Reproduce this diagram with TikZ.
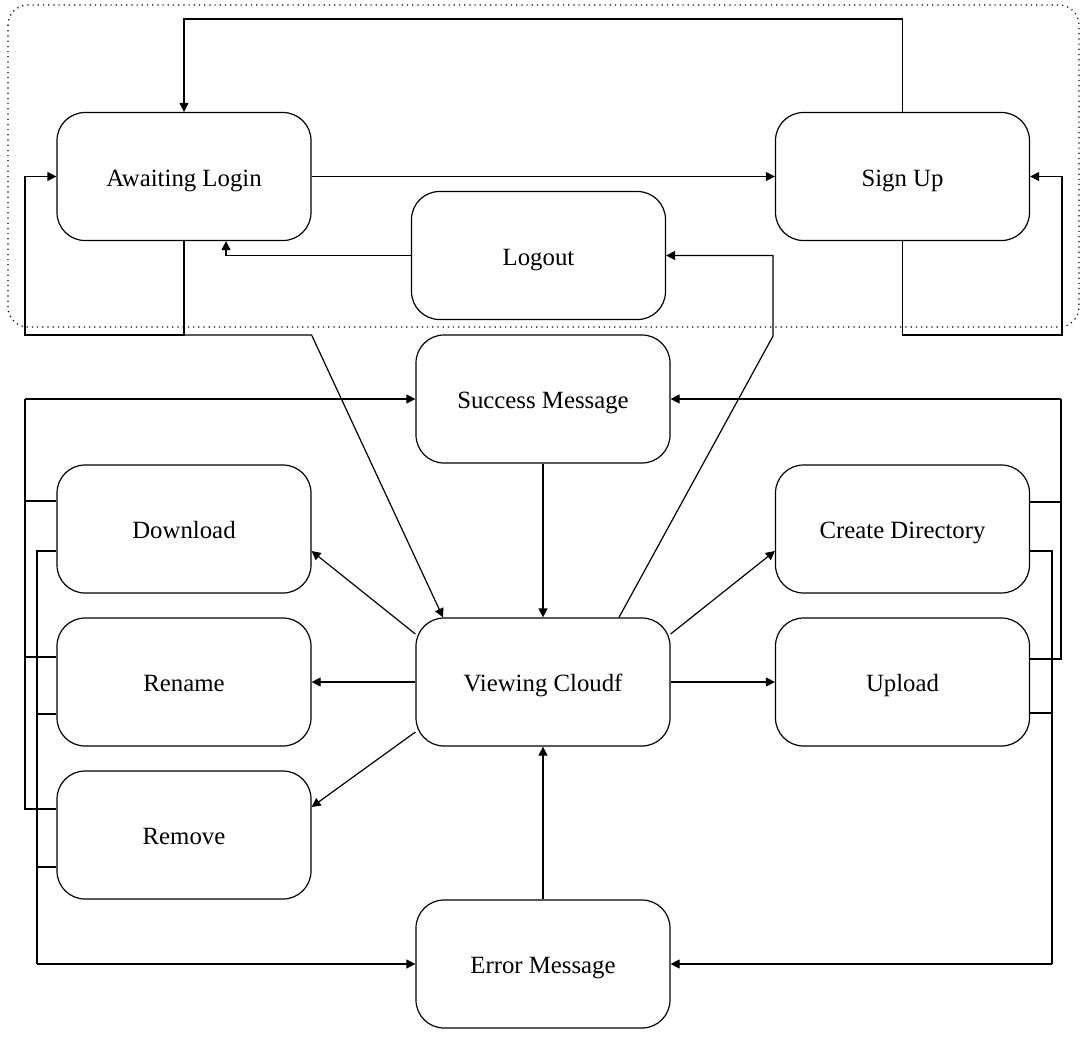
\documentclass[tikz,border=0pt]{standalone}
\usepackage{fontspec}
\setmainfont{Liberation Serif}
\usetikzlibrary{positioning, calc, arrows.meta}

\begin{document}
\begin{tikzpicture}[x=0.5pt, y=-0.5pt, ->, >={Triangle[length=4.5pt,width=4.5pt]}, semithick,
  statebox/.style={draw, rectangle, rounded corners=14pt, minimum width=127pt, minimum height=64pt,
    align=center, text height=9.5pt, text depth=0pt, font=\fontsize{12.4}{15}\selectfont}]
  \useasboundingbox (0,0) rectangle (1086,1039);
  % login group
  \draw[-, dotted, rounded corners=10pt] (8,5) rectangle (1079,327);

  \node[statebox] (awaiting)  at (184,176.5)   {Awaiting Login};
  \node[statebox] (signup)    at (902.5,176.5) {Sign Up};
  \node[statebox] (logout)    at (538.5,255.5) {Logout};
  \node[statebox] (success)   at (543,399)     {Success Message};
  \node[statebox] (download)  at (184,529)     {Download};
  \node[statebox] (rename)    at (184,682)     {Rename};
  \node[statebox] (remove)    at (184,835)     {Remove};
  \node[statebox] (viewing)   at (543,682)     {Viewing Cloudf};
  \node[statebox] (createdir) at (902.5,529)   {Create Directory};
  \node[statebox] (upload)    at (902.5,682)   {Upload};
  \node[statebox] (error)     at (543,964)     {Error Message};

  \coordinate (toprail)    at (543,19);
  \coordinate (leftrail)   at (25,335);
  \coordinate (rightrail)  at (1062,335);
  \coordinate (logoutbend) at (773,336);
  \coordinate (lsucc)      at (25,399);
  \coordinate (lerr)       at (37,964);
  \coordinate (rsucc)      at (1061,399);
  \coordinate (rerr)       at (1052,964);

  \draw (signup.north) |- (toprail) -| (awaiting.north);
  \draw (awaiting) -- (signup);
  \draw (logout.west) -| ([xshift=21pt]awaiting.south);
  \draw (awaiting.south) |- (leftrail) |- (awaiting.west);
  \draw (awaiting.south |- leftrail) -- (awaiting.south east |- leftrail) -- ([xshift=-50pt]viewing.north);
  \draw (signup.south) |- (rightrail) |- (signup.east);
  \draw ([xshift=38pt]viewing.north) -- (logoutbend) |- (logout.east);

  \draw (success) -- (viewing);
  \draw (error) -- (viewing);
  \draw ([yshift=24pt]viewing.west) -- ([yshift=-11pt]download.east);
  \draw (viewing) -- (rename);
  \draw ([yshift=-25pt]viewing.west) -- ([yshift=14pt]remove.east);
  \draw ([yshift=24pt]viewing.east) -- ([yshift=-11pt]createdir.west);
  \draw (viewing) -- (upload);

  % success / error buses
  \draw[-] ([yshift=14pt]download.west) -| (lsucc);
  \draw[-] ([yshift=12.5pt]rename.west) -| (lsucc);
  \draw[-] ([yshift=13pt]remove.west) -| (lsucc);
  \draw (lsucc) -- (success.west);
  \draw[-] ([yshift=-11pt]download.west) -| (lerr);
  \draw[-] ([yshift=-16pt]rename.west) -| (lerr);
  \draw[-] ([yshift=-16pt]remove.west) -| (lerr);
  \draw (lerr) -- (error.west);
  \draw[-] ([yshift=13.5pt]createdir.east) -| (rsucc);
  \draw[-] ([yshift=11.5pt]upload.east) -| (rsucc);
  \draw (rsucc) -- (success.east);
  \draw[-] ([yshift=-11pt]createdir.east) -| (rerr);
  \draw[-] ([yshift=-15.5pt]upload.east) -| (rerr);
  \draw (rerr) -- (error.east);
\end{tikzpicture}
\end{document}
